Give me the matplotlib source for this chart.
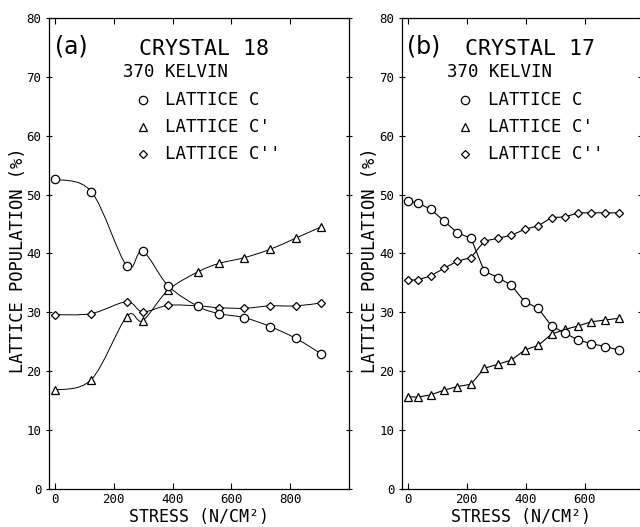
import numpy as np
import matplotlib.pyplot as plt
from matplotlib.path import Path
from matplotlib.patches import PathPatch

# (a) crystal 18, 370 K
stress_a = [0, 124, 244, 298, 385, 487, 557, 644, 731, 818, 904]
c_a = [52.6, 50.5, 37.9, 40.4, 34.5, 31.0, 29.8, 29.1, 27.6, 25.6, 23.0]
c1_a = [16.8, 18.6, 29.3, 28.6, 33.8, 36.9, 38.3, 39.3, 40.7, 42.6, 44.5]
c2_a = [29.6, 29.8, 31.8, 30.1, 31.2, 31.1, 30.8, 30.7, 31.1, 31.1, 31.6]

# (b) crystal 17, 370 K
stress_b = [0, 33, 78, 123, 168, 214, 259, 306, 351, 396, 442, 487, 532, 577, 622, 668, 715]
c_b = [48.9, 48.6, 47.5, 45.5, 43.5, 42.6, 37.0, 35.9, 34.6, 31.8, 30.7,
       27.7, 26.5, 25.3, 24.7, 24.2, 23.6]
c1_b = [15.7, 15.6, 16.0, 16.8, 17.4, 17.8, 20.5, 21.2, 21.9, 23.6, 24.4,
        26.3, 27.1, 27.7, 28.4, 28.7, 29.0]
c2_b = [35.5, 35.5, 36.2, 37.5, 38.7, 39.3, 42.1, 42.6, 43.1, 44.1, 44.7,
        46.1, 46.2, 46.9, 46.9, 46.9, 46.9]

xticks_a = [0, 200, 400, 600, 800]
xticks_b = [0, 200, 400, 600]
yticks = [0, 10, 20, 30, 40, 50, 60, 70, 80]

plt.rcParams['font.family'] = 'DejaVu Sans Mono'


def smooth_path(x, y):
    # Catmull-Rom style bezier through the measured points (drawing only)
    x = np.asarray(x, float)
    y = np.asarray(y, float)
    verts = [(x[0], y[0])]
    codes = [Path.MOVETO]
    n = len(x)
    for i in range(n - 1):
        i0 = max(i - 1, 0)
        i3 = min(i + 2, n - 1)
        p1 = (x[i] + (x[i + 1] - x[i0]) / 6, y[i] + (y[i + 1] - y[i0]) / 6)
        p2 = (x[i + 1] - (x[i3] - x[i]) / 6, y[i + 1] - (y[i3] - y[i]) / 6)
        verts += [p1, p2, (x[i + 1], y[i + 1])]
        codes += [Path.CURVE4] * 3
    return Path(verts, codes)


fig = plt.figure(figsize=(6.4, 5.27), dpi=100)
ax_a = fig.add_axes([0.0766, 0.072, 0.469, 0.894])
ax_b = fig.add_axes([0.628, 0.072, 0.3734, 0.894])

panels = [
    (ax_a, stress_a, c_a, c1_a, c2_a, (-20, 1000), xticks_a, '(a)', 'CRYSTAL 18', True),
    (ax_b, stress_b, c_b, c1_b, c2_b, (-20, 790), xticks_b, '(b)', 'CRYSTAL 17', False),
]

mk = dict(color='black', markerfacecolor='white',
          markeredgecolor='black', markeredgewidth=0.9, zorder=3)

for ax, x, c, c1, c2, xlim, xt, tag, name, smooth in panels:
    for ys, m, ms in [(c2, 'D', 4.3), (c1, '^', 6.2), (c, 'o', 6.0)]:
        if smooth:
            ax.add_patch(PathPatch(smooth_path(x, ys), facecolor='none',
                                   edgecolor='black', lw=0.7))
            ax.plot(x, ys, marker=m, markersize=ms, linestyle='none', **mk)
        else:
            ax.plot(x, ys, marker=m, markersize=ms, lw=0.8, **mk)

    ax.set_xlim(*xlim)
    ax.set_ylim(0, 80)
    ax.set_xticks(xt)
    ax.set_yticks(yticks)
    ax.tick_params(direction='in', length=4, width=0.8, labelsize=9,
                   top=True, right=True, pad=3)
    ax.tick_params(axis='y', direction='inout', length=5)
    for s in ax.spines.values():
        s.set_linewidth(0.9)

    ax.set_xlabel('STRESS (N/CM²)', fontsize=12, labelpad=1.5)
    ax.set_ylabel('LATTICE POPULATION (%)', fontsize=12.3)
    lx_frac = -0.075 if ax is ax_a else -0.098
    ax.yaxis.set_label_coords(lx_frac, 0.486)

    ax.text(0.02, 0.965, tag, transform=ax.transAxes, fontsize=17,
            family='DejaVu Sans', ha='left', va='top')
    tx = 0.30 if ax is ax_a else 0.265
    ax.text(tx, 0.955, name, transform=ax.transAxes, fontsize=15.5,
            ha='left', va='top')

    kx = 0.245 if ax is ax_a else 0.19
    ax.text(kx, 0.885, '370 KELVIN', transform=ax.transAxes, fontsize=12.5,
            ha='left', va='center')
    mx = 0.313 if ax is ax_a else 0.265
    lx = 0.387 if ax is ax_a else 0.36
    rows = [('o', 'LATTICE C', 0.825), ('^', "LATTICE C'", 0.769),
            ('D', "LATTICE C''", 0.711)]
    for m, lab, yy in rows:
        ms = 4.0 if m == 'D' else 6.0
        ax.plot([mx], [yy], transform=ax.transAxes, marker=m, markersize=ms,
                color='black', markerfacecolor='white', markeredgewidth=0.9,
                linestyle='none', clip_on=False)
        ax.text(lx, yy, lab, transform=ax.transAxes, fontsize=12.5,
                ha='left', va='center')

fig.savefig('out.png', dpi=100)
